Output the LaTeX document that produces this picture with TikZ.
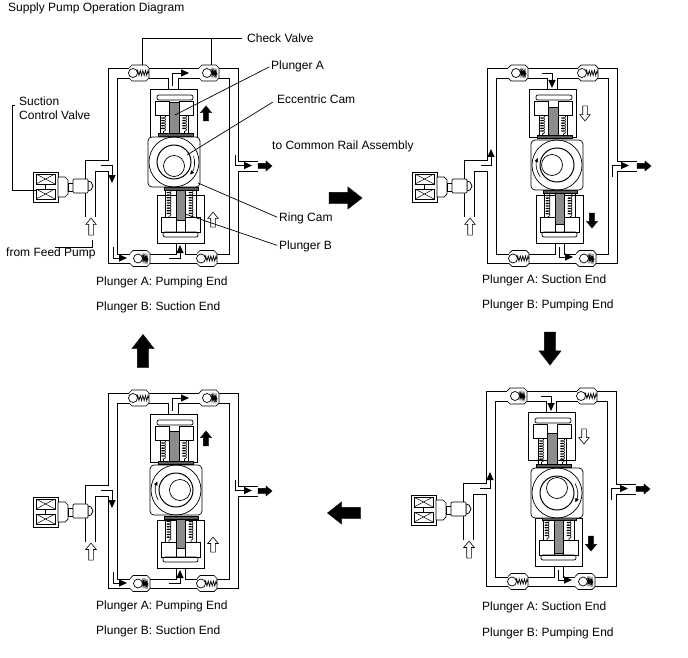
\documentclass[tikz,border=0pt]{standalone}
\usepackage{fontspec}
\setmainfont{Liberation Sans}
\usetikzlibrary{arrows.meta,shapes.arrows,decorations.pathmorphing}
\tikzstyle{pipe} = [line width=0.9pt]
\tikzstyle{part} = [line width=0.7pt]
\tikzstyle{leader} = [line width=0.7pt]
\tikzstyle{plunger} = [part, fill=black!45]
\tikzstyle{flow} = [line width=0.9pt,-{Triangle[length=8pt,width=7pt]}]
\tikzstyle{camflow} = [line width=0.6pt,-{Triangle[length=4pt,width=3.5pt]}]
\tikzstyle{coilspring} = [line width=0.6pt, decorate, decoration={coil,segment length=2.6pt,amplitude=2pt,aspect=0.5}]
\tikzstyle{solidarrow} = [single arrow, fill=black, draw=black, line width=0.3pt, minimum height=15pt, inner xsep=0pt, inner ysep=2.5pt, single arrow head extend=3pt, single arrow head indent=0pt, single arrow tip angle=80]
\tikzstyle{hollowarrow} = [solidarrow, fill=white, line width=0.6pt, inner ysep=2pt, single arrow head extend=3pt]
\tikzstyle{bigarrow} = [solidarrow, minimum height=33pt, inner ysep=5.5pt, single arrow head extend=5.5pt, single arrow tip angle=76]
\tikzstyle{caption} = [anchor=west, inner sep=0pt, font=\fontsize{12}{14}\selectfont]

% x, y, ball offset, spring end, spring pitch
\newcommand{\checkvalve}[5]{
\draw[part, fill=white] (#1-10,#2-5) -- (#1-7,#2-8) -- (#1+7,#2-8) -- (#1+10,#2-5) -- (#1+10,#2+5) -- (#1+7,#2+8) -- (#1-7,#2+8) -- (#1-10,#2+5);
\fill[white] (#1-9,#2-5) rectangle (#1+9,#2+5);
\draw[line width=0.7pt, decorate, decoration={zigzag,segment length=#5,amplitude=2.5pt}] (#1+#3+4,#2) -- (#1+#4,#2);
\draw[part, fill=white] (#1+#3,#2) circle (4.5);
}

% ring x, ring y, cam dx, cam dy, flange A, flange B, plunger A top, plunger B bottom, arc end
\newcommand{\pumpunit}[9]{
% pipes
\draw[pipe] (85,217) -- (85,160) -- (108,160) -- (108,68) -- (238,68) -- (238,161) -- (258,161);
\draw[pipe] (95,217) -- (95,171) -- (108,171) -- (108,263) -- (238,263) -- (238,171) -- (258,171);
\draw[pipe] (168.5,89) -- (168.5,78) -- (117,78) -- (117,254) -- (176,254) -- (176,243);
\draw[pipe] (178,89) -- (178,78) -- (229,78) -- (229,254) -- (185,254) -- (185,243);
% control valve
\draw[part] (33,172) rectangle (58,202);
\draw[part] (36,174) rectangle (55,184);
\draw[part] (36,189) rectangle (55,199);
\foreach \ya/\yb in {174/184,189/199} {
\draw[line width=0.5pt] (36,\ya) -- (55,\yb) (36,\yb) -- (55,\ya);
}
\draw[part] (45,184) -- (45,189);
\draw[part, fill=white] (58,177) -- (65,177) -- (68,180) -- (68,194) -- (65,197) -- (58,197) -- cycle;
\draw[part, fill=white] (68,183) rectangle (73,191);
\draw[part, fill=white] (88,181) -- (91,182) -- (93,186) -- (91,190) -- (88,191) -- cycle;
\draw[part, fill=white, rounded corners=1] (73,179) rectangle (88,193);
% plunger A
\draw[part] (150,89) rectangle (197,137);
\draw[part, rounded corners=2] (157,95) rectangle (193,100);
\draw[part] (155,101) rectangle (169,115);
\draw[part] (179,101) rectangle (193,115);
\draw[part] (160,115) -- (160,#5) (188,115) -- (188,#5);
\draw[coilspring] (163.5,115) -- (163.5,#5);
\draw[coilspring] (184.5,115) -- (184.5,#5);
\draw[plunger] (169,#7) rectangle (179,#5);
\draw[plunger, fill=black!65] (158,#5) rectangle (193,#5+3.5);
% plunger B
\draw[part] (157,195) rectangle (204,243);
\draw[part, rounded corners=2] (163,232) rectangle (198,237);
\draw[part] (161,217) rectangle (176,232);
\draw[part] (185,217) rectangle (200,232);
\draw[part] (165,#6) -- (165,217) (196,#6) -- (196,217);
\draw[coilspring] (169,#6) -- (169,217);
\draw[coilspring] (191,#6) -- (191,217);
\draw[part] (176,#8) rectangle (185,232);
\draw[plunger] (176,#6) rectangle (185,#8);
\draw[plunger, fill=black!65] (164,#6) rectangle (198,#6+3);
% ring cam
\draw[part, fill=white, rounded corners=4] (#1-26,#2-25) rectangle (#1+26,#2+25);
\draw[part] (#1,#2) circle (25);
\draw[line width=1pt] (#1,#2) circle (17);
\draw[part] (#1+#3,#2+#4) circle (10.5);
\draw[camflow] (#1,#2) ++({#9-55}:20.5) arc ({#9-55}:#9:20.5);
% feed
\node (feedarrow) [hollowarrow, minimum height=17pt, rotate=90] at (91,228) {};
\node (outarrow) [solidarrow, minimum height=14pt, inner ysep=2.5pt, single arrow head extend=2.5pt] at (263.5,166) {};
}

\newcommand{\pumpingflow}{
\checkvalve{139}{73}{-6}{10}{2.6pt}
\checkvalve{209}{73}{-2}{8}{1.2pt}
\checkvalve{140}{258.5}{-2}{8}{1.2pt}
\checkvalve{207}{258.5}{-6}{10}{2.6pt}
\draw[flow] (172,86) -- (172,73) -- (189,73);
\draw[flow] (169,258) -- (180,258) -- (180,245);
\draw[flow] (113,247) -- (113,258) -- (127,258);
\draw[flow] (101,165.5) -- (112,165.5) -- (112,183);
\draw[flow] (235,155) -- (235,165.5) -- (252,165.5);
\node (upperarrow) [solidarrow, rotate=90] at (206,115) {};
\node (lowerarrow) [hollowarrow, rotate=90] at (213,221) {};
}

\newcommand{\suctionflow}{
\checkvalve{139}{73}{-2}{8}{1.2pt}
\checkvalve{209}{73}{-6}{10}{2.6pt}
\checkvalve{140}{258.5}{-6}{10}{2.6pt}
\checkvalve{207}{258.5}{-2}{8}{1.2pt}
\draw[flow] (163,73) -- (173,73) -- (173,88);
\draw[flow] (180,247) -- (180,257) -- (194,257);
\draw[flow] (102,165.5) -- (112,165.5) -- (112,149);
\draw[flow] (233,177) -- (233,165.5) -- (250,165.5);
\node (upperarrow) [hollowarrow, rotate=-90] at (206,112) {};
\node (lowerarrow) [solidarrow, rotate=-90] at (213,219) {};
}

\begin{document}
\begin{tikzpicture}[x=1pt,y=-1pt]
\useasboundingbox (0,0) rectangle (688,658);

\node (title) [caption] at (8,8) {Supply Pump Operation Diagram};

\pumpunit{174}{162}{0}{4}{133}{187}{102}{220}{38}
\pumpingflow

\begin{scope}[shift={(379,0)}]
\pumpunit{178}{165}{-5}{0}{135}{190}{107}{224}{200}
\suctionflow
\end{scope}

\begin{scope}[shift={(378,323)}]
\pumpunit{179}{170}{0}{-5}{141}{194}{110}{230}{27}
\suctionflow
\end{scope}

\begin{scope}[shift={(0,325)}]
\pumpunit{176}{165}{4}{0}{136}{191}{106}{223}{205}
\pumpingflow
\end{scope}

% labels
\node (checkvalve) [caption] at (247,38.5) {Check Valve};
\node (plungera) [caption] at (271,66) {Plunger A};
\node (eccentric) [caption] at (277,99.5) {Eccentric Cam};
\node (commonrail) [caption] at (272,146) {to Common Rail Assembly};
\node (ringcam) [caption] at (279,218) {Ring Cam};
\node (plungerb) [caption] at (279,246) {Plunger B};
\node (suction) [caption, align=left] at (19,108) {Suction\\Control Valve};
\node (feedpump) [caption] at (6,253) {from Feed Pump};

\coordinate (valveleft) at (142,65);
\coordinate (valveright) at (211,65);
\coordinate (plungerapin) at (175,115);
\coordinate (campin) at (187,155);
\coordinate (ringpin) at (198,183);
\coordinate (plungerbpin) at (185,214);
\coordinate (controlpin) at (37,190);
\coordinate (feedpin) at (92,240);

\draw[leader, shorten <=5pt] (checkvalve.west) -- (valveleft |- checkvalve) -- (valveleft);
\draw[leader] (valveright |- checkvalve) -- (valveright);
\draw[leader, shorten <=2pt] (plungera.west) -- (plungerapin);
\draw[leader, shorten <=5pt] (eccentric.west) -- (campin);
\draw[leader, shorten <=2pt] (ringcam.west) -- (ringpin);
\draw[leader, shorten <=2pt] (plungerb.west) -- (plungerbpin);
\draw[leader] (15,105) -- (12,105) -- (12,190) -- (controlpin);
\draw[leader] (55,247) -- (92,247) -- (feedpin);

% big arrows
\node (bigright) [bigarrow] at (342,198) {};
\node (bigdown) [bigarrow, rotate=-90] at (550,345) {};
\node (bigleft) [bigarrow, rotate=180] at (347.5,513) {};
\node (bigup) [bigarrow, rotate=90] at (143,354.5) {};

% captions
\node (capa1) [caption] at (96,282) {Plunger A: Pumping End};
\node (capb1) [caption] at (96,307) {Plunger B: Suction End};
\node (capa2) [caption] at (482,280) {Plunger A: Suction End};
\node (capb2) [caption] at (482,305) {Plunger B: Pumping End};
\node (capa3) [caption] at (482,607) {Plunger A: Suction End};
\node (capb3) [caption] at (482,633) {Plunger B: Pumping End};
\node (capa4) [caption] at (96,606) {Plunger A: Pumping End};
\node (capb4) [caption] at (96,631) {Plunger B: Suction End};
\end{tikzpicture}
\end{document}
